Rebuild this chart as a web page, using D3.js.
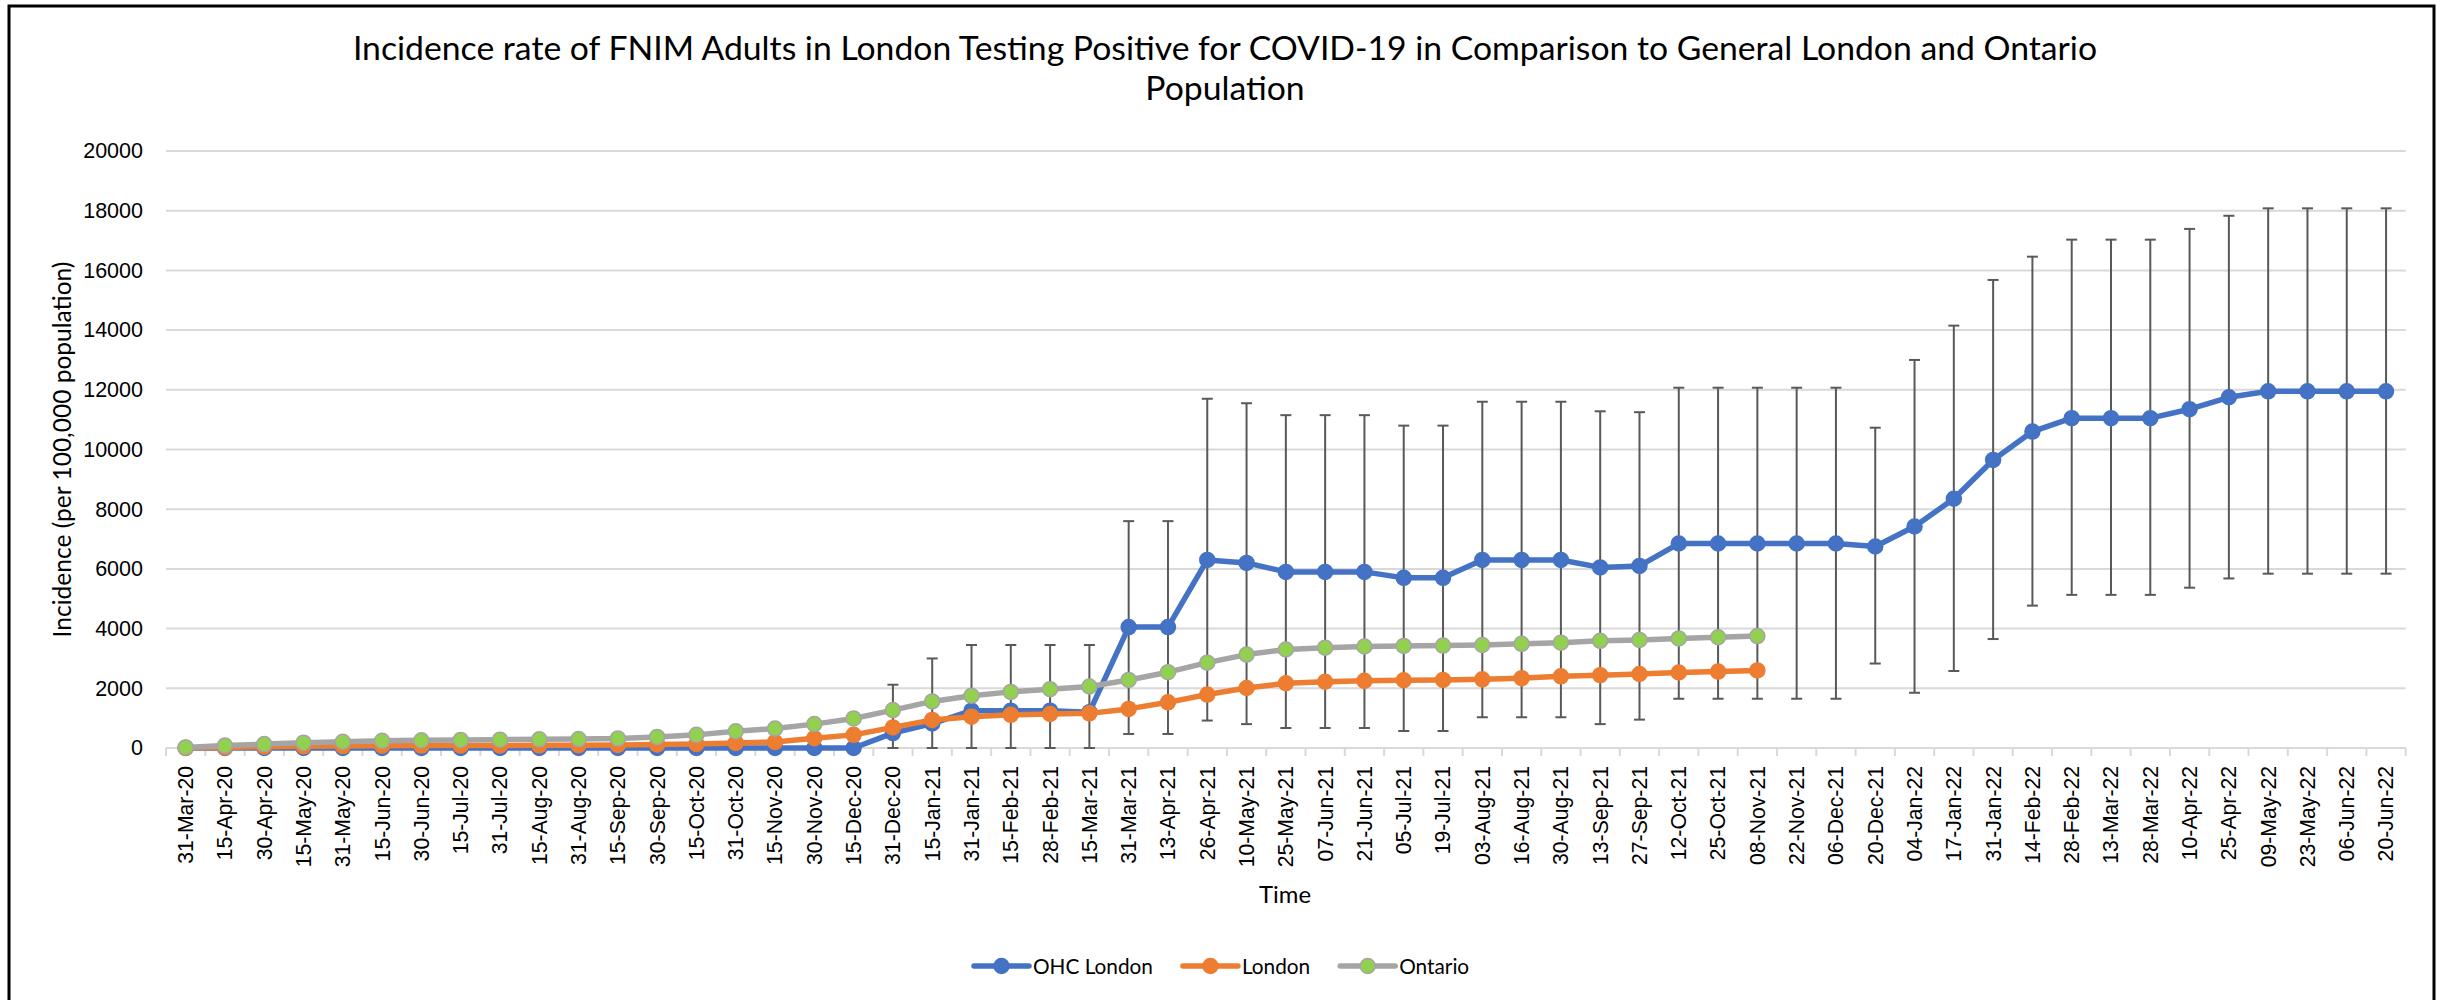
<!DOCTYPE html>
<html>
<head>
<meta charset="utf-8">
<script src="https://cdn.jsdelivr.net/npm/d3@7"></script>
<style>
  body { margin: 0; background: #fff; }
  svg { display: block; }
</style>
</head>
<body>
<script>
// categories (x axis)
const dates = ["31-Mar-20", "15-Apr-20", "30-Apr-20", "15-May-20", "31-May-20", "15-Jun-20", "30-Jun-20",
    "15-Jul-20", "31-Jul-20", "15-Aug-20", "31-Aug-20", "15-Sep-20", "30-Sep-20", "15-Oct-20", "31-Oct-20",
    "15-Nov-20", "30-Nov-20", "15-Dec-20", "31-Dec-20", "15-Jan-21", "31-Jan-21", "15-Feb-21", "28-Feb-21",
    "15-Mar-21", "31-Mar-21", "13-Apr-21", "26-Apr-21", "10-May-21", "25-May-21", "07-Jun-21", "21-Jun-21",
    "05-Jul-21", "19-Jul-21", "03-Aug-21", "16-Aug-21", "30-Aug-21", "13-Sep-21", "27-Sep-21", "12-Oct-21",
    "25-Oct-21", "08-Nov-21", "22-Nov-21", "06-Dec-21", "20-Dec-21", "04-Jan-22", "17-Jan-22", "31-Jan-22",
    "14-Feb-22", "28-Feb-22", "13-Mar-22", "28-Mar-22", "10-Apr-22", "25-Apr-22", "09-May-22", "23-May-22",
    "06-Jun-22", "20-Jun-22"];

// OHC London incidence + error bar bounds
const ohcLondon = [0, 0, 0, 0, 0, 0, 0, 0, 0, 0, 0, 0, 0, 0, 0, 0, 0, 0, 500, 820, 1250, 1250, 1250, 1200,
    4050, 4050, 6300, 6200, 5900, 5900, 5900, 5700, 5700, 6300, 6300, 6300, 6050, 6100, 6850, 6850, 6850,
    6850, 6850, 6750, 7420, 8350, 9650, 10600, 11050, 11050, 11050, 11350, 11750, 11950, 11950, 11950, 11950];
const ohcLower = [null, null, null, null, null, null, null, null, null, null, null, null, null, null, null, null,
    null, null, 0, 0, 0, 0, 0, 0, 470, 470, 920, 800, 670, 670, 670, 570, 570, 1030, 1030, 1030, 800, 950,
    1650, 1650, 1650, 1650, 1650, 2830, 1850, 2580, 3650, 4770, 5130, 5130, 5130, 5370, 5680, 5840, 5840, 5840, 5840];
const ohcUpper = [null, null, null, null, null, null, null, null, null, null, null, null, null, null, null, null,
    null, null, 2120, 3000, 3450, 3450, 3450, 3450, 7600, 7600, 11700, 11550, 11150, 11150, 11150, 10800, 10800,
    11600, 11600, 11600, 11280, 11250, 12070, 12070, 12070, 12070, 12070, 10730, 13000, 14150, 15680, 16460,
    17030, 17030, 17030, 17390, 17830, 18080, 18080, 18080, 18080];

// general London and Ontario (stop at 08-Nov-21)
const london = [5, 20, 45, 55, 65, 75, 80, 80, 85, 90, 95, 100, 120, 135, 170, 200, 330, 440, 690, 940, 1050,
    1110, 1140, 1160, 1310, 1530, 1790, 2010, 2170, 2220, 2250, 2270, 2280, 2300, 2340, 2400, 2440, 2480, 2530,
    2560, 2600];
const ontario = [20, 80, 130, 180, 210, 240, 260, 270, 280, 290, 300, 320, 370, 440, 560, 650, 800, 990, 1270,
    1560, 1750, 1880, 1970, 2060, 2280, 2540, 2860, 3130, 3300, 3360, 3400, 3420, 3430, 3450, 3490, 3530, 3590,
    3620, 3670, 3710, 3750];

const yTicks = [0, 2000, 4000, 6000, 8000, 10000, 12000, 14000, 16000, 18000, 20000];

const width = 2443;
const height = 1000;
const plot = { left: 166, right: 2405.7, top: 151, bottom: 748 };

var svg = d3.select("body").append("svg")
    .attr("width", width)
    .attr("height", height);

// chart frame
svg.append("rect")
    .attr("x", 9).attr("y", 6)
    .attr("width", 2425).attr("height", 1100)
    .attr("fill", "#fff")
    .attr("stroke", "#000")
    .attr("stroke-width", 3);

var x = d3.scaleBand().domain(dates).range([plot.left, plot.right]);
var y = d3.scaleLinear().domain([0, 20000]).range([plot.bottom, plot.top]);
var cx = function (d) { return x(d) + x.bandwidth() / 2; };

function fitWidth(sel, target) {
    var w = sel.node().getComputedTextLength();
    var fs = parseFloat(sel.attr("font-size"));
    sel.attr("font-size", fs * target / w);
}

// gridlines
svg.append("g").selectAll("line")
    .data(yTicks)
    .enter().append("line")
    .attr("x1", plot.left).attr("x2", plot.right)
    .attr("y1", function (d) { return y(d); })
    .attr("y2", function (d) { return y(d); })
    .attr("stroke", "#d9d9d9")
    .attr("stroke-width", 2);

// tick marks between categories
svg.append("g").selectAll("line")
    .data(d3.range(dates.length + 1))
    .enter().append("line")
    .attr("x1", function (i) { return plot.left + i * x.bandwidth(); })
    .attr("x2", function (i) { return plot.left + i * x.bandwidth(); })
    .attr("y1", plot.bottom).attr("y2", plot.bottom + 8)
    .attr("stroke", "#d9d9d9")
    .attr("stroke-width", 2);

// y axis labels
var yAxis = svg.append("g")
    .attr("transform", "translate(" + plot.left + ",0)")
    .call(d3.axisLeft(y).tickValues(yTicks).tickSize(0).tickPadding(23).tickFormat(d3.format("d")));
yAxis.select(".domain").remove();
yAxis.selectAll("text")
    .attr("font-family", "'Liberation Sans', Arial, sans-serif")
    .attr("font-size", 21.5)
    .attr("fill", "#000");

// x axis labels, rotated
var xAxis = svg.append("g")
    .attr("transform", "translate(0," + plot.bottom + ")")
    .call(d3.axisBottom(x).tickSize(0));
xAxis.select(".domain").remove();
xAxis.selectAll("text")
    .attr("font-family", "'Liberation Sans', Arial, sans-serif")
    .attr("font-size", 21.2)
    .attr("fill", "#000")
    .attr("transform", "rotate(-90)")
    .attr("text-anchor", "end")
    .attr("x", -18)
    .attr("y", 0)
    .attr("dy", "0.35em");

// titles
var titleFont = "Lato, 'Open Sans', sans-serif";
var t1 = svg.append("text")
    .attr("x", 1225).attr("y", 60)
    .attr("text-anchor", "middle")
    .attr("font-family", titleFont)
    .attr("font-size", 30)
    .text("Incidence rate of FNIM Adults in London Testing Positive for COVID-19 in Comparison to General London and Ontario");
fitWidth(t1, 1745);
svg.append("text")
    .attr("x", 1225).attr("y", 99.5)
    .attr("text-anchor", "middle")
    .attr("font-family", titleFont)
    .attr("font-size", t1.attr("font-size"))
    .text("Population");

var yTitle = svg.append("text")
    .attr("transform", "translate(62," + (plot.top + plot.bottom) / 2 + ") rotate(-90)")
    .attr("text-anchor", "middle")
    .attr("dy", "0.35em")
    .attr("font-family", titleFont)
    .attr("font-size", 22)
    .text("Incidence (per 100,000 population)");
fitWidth(yTitle, 376);

var xTitle = svg.append("text")
    .attr("x", 1285).attr("y", 903)
    .attr("text-anchor", "middle")
    .attr("font-family", titleFont)
    .attr("font-size", 22)
    .text("Time");
fitWidth(xTitle, 52);

// error bars on OHC London
var errIdx = d3.range(dates.length).filter(function (i) { return ohcLower[i] != null; });
var err = svg.append("g").attr("stroke", "#595959").attr("stroke-width", 2);
err.selectAll(".bar").data(errIdx).enter().append("line")
    .attr("x1", function (i) { return cx(dates[i]); })
    .attr("x2", function (i) { return cx(dates[i]); })
    .attr("y1", function (i) { return y(ohcLower[i]); })
    .attr("y2", function (i) { return y(ohcUpper[i]); });
err.selectAll(".capTop").data(errIdx).enter().append("line")
    .attr("x1", function (i) { return cx(dates[i]) - 5.5; })
    .attr("x2", function (i) { return cx(dates[i]) + 5.5; })
    .attr("y1", function (i) { return y(ohcUpper[i]); })
    .attr("y2", function (i) { return y(ohcUpper[i]); });
err.selectAll(".capBot").data(errIdx).enter().append("line")
    .attr("x1", function (i) { return cx(dates[i]) - 5.5; })
    .attr("x2", function (i) { return cx(dates[i]) + 5.5; })
    .attr("y1", function (i) { return y(ohcLower[i]); })
    .attr("y2", function (i) { return y(ohcLower[i]); });

var series = [
    { name: "OHC London", values: ohcLondon, line: "#4472C4", fill: "#4472C4", stroke: "#4472C4" },
    { name: "London", values: london, line: "#ED7D31", fill: "#ED7D31", stroke: "#ED7D31" },
    { name: "Ontario", values: ontario, line: "#A5A5A5", fill: "#92D050", stroke: "#A5A5A5" }
];

var line = d3.line()
    .x(function (d) { return cx(d.date); })
    .y(function (d) { return y(d.v); });

series.forEach(function (s) {
    var pts = s.values.map(function (v, i) { return { date: dates[i], v: v }; });
    var g = svg.append("g");
    g.append("path")
        .attr("d", line(pts))
        .attr("fill", "none")
        .attr("stroke", s.line)
        .attr("stroke-width", 5.5)
        .attr("stroke-linejoin", "round");
    g.selectAll("circle")
        .data(pts)
        .enter().append("circle")
        .attr("cx", function (d) { return cx(d.date); })
        .attr("cy", function (d) { return y(d.v); })
        .attr("r", 7.5)
        .attr("fill", s.fill)
        .attr("stroke", s.stroke)
        .attr("stroke-width", 1.5);
});

// legend
var legend = svg.append("g");
var lx = 974, ly = 966;
var legendSize = null;
series.forEach(function (s) {
    legend.append("line")
        .attr("x1", lx).attr("x2", lx + 55)
        .attr("y1", ly).attr("y2", ly)
        .attr("stroke", s.line)
        .attr("stroke-width", 5.5)
        .attr("stroke-linecap", "round");
    legend.append("circle")
        .attr("cx", lx + 27.5).attr("cy", ly)
        .attr("r", 7.5)
        .attr("fill", s.fill)
        .attr("stroke", s.stroke)
        .attr("stroke-width", 1.5);
    var t = legend.append("text")
        .attr("x", lx + 59).attr("y", ly + 8)
        .attr("font-family", titleFont)
        .attr("font-size", legendSize || 22)
        .text(s.name);
    if (!legendSize) {
        fitWidth(t, 120);
        legendSize = t.attr("font-size");
    }
    lx = lx + 59 + t.node().getComputedTextLength() + 30;
});
</script>
</body>
</html>
